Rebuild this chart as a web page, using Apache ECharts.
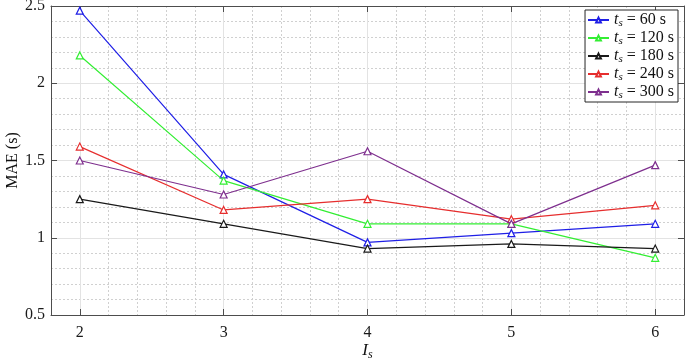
<!DOCTYPE html>
<html><head><meta charset="utf-8">
<script src="https://cdn.jsdelivr.net/npm/echarts@6/dist/echarts.min.js"></script>
<style>html,body{margin:0;padding:0;background:#fff}#c{width:685px;height:358px}</style>
</head><body><div id="c"></div>
<script>
const categories = [2, 3, 4, 5, 6];
const seriesNames = ['60', '120', '180', '240', '300'];
const ts60  = [2.47, 1.41, 0.97, 1.03, 1.09];
const ts120 = [2.18, 1.37, 1.09, 1.09, 0.87];
const ts180 = [1.25, 1.09, 0.93, 0.96, 0.93];
const ts240 = [1.59, 1.18, 1.25, 1.12, 1.21];
const ts300 = [1.50, 1.28, 1.56, 1.09, 1.47];
const xTicks = [2, 3, 4, 5, 6];
const yTicks = [0.5, 1, 1.5, 2, 2.5];

const values = [ts60, ts120, ts180, ts240, ts300];
const colors = ['#1f1fe6', '#33ee33', '#1a1a1a', '#e62e2e', '#7e2f8e'];
const FONT = 'Liberation Serif';
const AX = '#4d4d4d';

const chart = echarts.init(document.getElementById('c'), null, {renderer: 'canvas'});
const gridOpt = {left: 51, right: 1, top: 6, bottom: 43, containLabel: false, outerBoundsMode: 'none'};
const baseX = {type: 'value', min: 1.8, max: 6.2, gridIndex: 0};
const baseY = {type: 'value', min: 0.5, max: 2.5, gridIndex: 0};
chart.setOption({
  animation: false,
  backgroundColor: '#fff',
  grid: gridOpt,
  legend: {
    orient: 'vertical', right: 7, top: 10,
    backgroundColor: '#fff', borderColor: '#262626', borderWidth: 1,
    padding: [1, 4, 1, 2], itemGap: 0, itemWidth: 21, itemHeight: 6,
    data: seriesNames.map(n => 'ts' + n),
    formatter: name => '{i|t}{s|s}{n| = ' + name.slice(2) + ' s}',
    textStyle: {
      fontFamily: FONT, fontSize: 16, color: '#111', lineHeight: 17,
      rich: {
        i: {fontFamily: FONT, fontStyle: 'italic', fontSize: 16, color: '#111', lineHeight: 17},
        s: {fontFamily: FONT, fontStyle: 'italic', fontSize: 11, color: '#111', lineHeight: 17, padding: [7, 0, 0, 0]},
        n: {fontFamily: FONT, fontSize: 16, color: '#111', lineHeight: 17}
      }
    }
  },
  xAxis: [
    Object.assign({}, baseX, {
      position: 'bottom', z: 1,
      name: '{i|I}{s|s}', nameLocation: 'middle', nameGap: 26, nameMoveOverlap: false,
      nameTextStyle: {rich: {
        i: {fontFamily: FONT, fontStyle: 'italic', fontSize: 17, color: '#111'},
        s: {fontFamily: FONT, fontStyle: 'italic', fontSize: 12, color: '#111', padding: [8, 0, 0, 0]}
      }},
      axisLine: {show: true, onZero: false, lineStyle: {color: AX, width: 1}},
      axisTick: {show: true, inside: true, length: 6, customValues: xTicks, lineStyle: {color: AX}},
      axisLabel: {show: true, customValues: xTicks, fontFamily: FONT, fontSize: 16, color: '#1a1a1a', margin: 10},
      splitLine: {show: true, lineStyle: {color: '#e3e3e3', width: 1, type: 'solid'}}
    }),
    Object.assign({}, baseX, {
      position: 'top', z: 1,
      axisLine: {show: true, onZero: false, lineStyle: {color: AX, width: 1}},
      axisTick: {show: true, inside: true, length: 6, customValues: xTicks, lineStyle: {color: AX}},
      axisLabel: {show: false},
      splitLine: {show: false}
    }),
    Object.assign({}, baseX, {
      position: 'bottom', z: 0, interval: 0.2,
      axisLine: {show: false}, axisTick: {show: false},
      axisLabel: {show: false},
      splitLine: {show: true, lineStyle: {color: '#d0d0d0', width: 1, type: [2, 2]}}
    })
  ],
  yAxis: [
    Object.assign({}, baseY, {
      position: 'left', z: 1,
      name: 'MAE (s)', nameLocation: 'middle', nameGap: 30, nameMoveOverlap: false,
      nameTextStyle: {fontFamily: FONT, fontSize: 16, color: '#111'},
      axisLine: {show: true, onZero: false, lineStyle: {color: AX, width: 1}},
      axisTick: {show: true, inside: true, length: 6, customValues: yTicks, lineStyle: {color: AX}},
      axisLabel: {show: true, customValues: yTicks, fontFamily: FONT, fontSize: 16, color: '#1a1a1a', margin: 6},
      splitLine: {show: true, lineStyle: {color: '#e3e3e3', width: 1, type: 'solid'}}
    }),
    Object.assign({}, baseY, {
      position: 'right', z: 1,
      axisLine: {show: true, onZero: false, lineStyle: {color: AX, width: 1}},
      axisTick: {show: true, inside: true, length: 6, customValues: yTicks, lineStyle: {color: AX}},
      axisLabel: {show: false},
      splitLine: {show: false}
    }),
    Object.assign({}, baseY, {
      position: 'left', z: 0, interval: 0.1,
      axisLine: {show: false}, axisTick: {show: false},
      axisLabel: {show: false},
      splitLine: {show: true, lineStyle: {color: '#d0d0d0', width: 1, type: [2, 2]}}
    })
  ],
  series: seriesNames.map((n, k) => ({
    name: 'ts' + n, type: 'line', xAxisIndex: 0, yAxisIndex: 0,
    data: categories.map((c, i) => [c, values[k][i]]),
    symbol: 'triangle', symbolSize: 7, showAllSymbol: true,
    lineStyle: {color: colors[k], width: 1.2},
    itemStyle: {color: '#fff', borderColor: colors[k], borderWidth: 1.2},
    z: 3 + k
  }))
});
</script></body></html>
